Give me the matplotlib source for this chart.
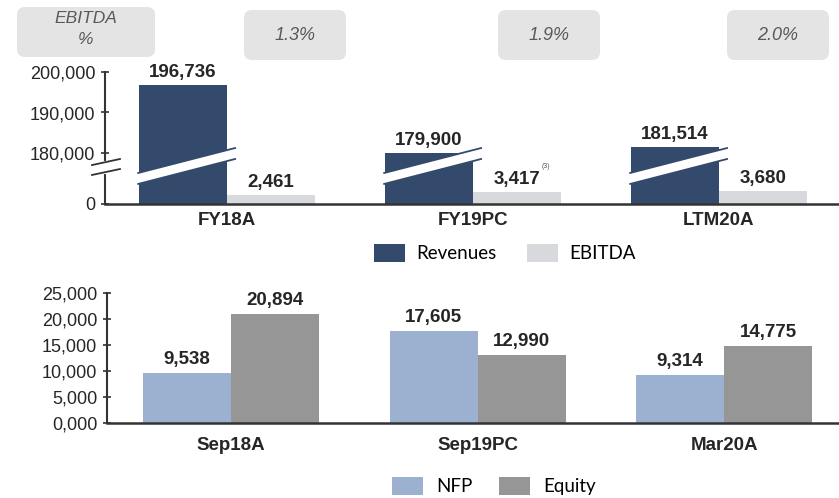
import numpy as np
import matplotlib.pyplot as plt
import matplotlib.transforms as mtransforms
from matplotlib.patches import Patch, Polygon, FancyBboxPatch
from matplotlib.ticker import FuncFormatter

# top chart data
years = ["FY18A", "FY19PC", "LTM20A"]
revenues = [196736, 179900, 181514]
ebitda = [2461, 3417, 3680]
ebitda_margin = ["1.3%", "1.9%", "2.0%"]

# bottom chart data
dates = ["Sep18A", "Sep19PC", "Mar20A"]
nfp = [9538, 17605, 9314]
equity = [20894, 12990, 14775]

NAVY = "#344a6c"
LIGHT = "#d7d9dc"
BLUE = "#9cb0cf"
GREY = "#969696"
TXT = "#262626"

plt.rcParams["font.family"] = ["Liberation Sans", "DejaVu Sans"]

W, H = 839, 498
fig = plt.figure(figsize=(W / 100, H / 100), dpi=100)


def fx(p):
    return p / W


def fy(p):
    return 1 - p / H


# broken y scale: low part (0-9k) and high part (177k-200k) kept, middle squeezed
brk_y = [-1e6, 0, 9000, 177000, 200000, 1e6]
brk_t = [-3500, 0, 31.5, 38.85, 132, 132 + 800 * 4.05]


def fwd(y):
    return np.interp(y, brk_y, brk_t)


def inv(t):
    return np.interp(t, brk_t, brk_y)


x = np.arange(len(years))
w = 0.357

# ---------------- top chart ----------------
ax1 = fig.add_axes([fx(105), fy(204), fx(839) - fx(105), fy(72) - fy(204)])
ax1.set_yscale("function", functions=(fwd, inv))
ax1.bar(x - w / 2, revenues, w, color=NAVY, zorder=2)
ax1.bar(x + w / 2, ebitda, w, color=LIGHT, zorder=2)
ax1.set_ylim(0, 200000)
ax1.set_xlim(-0.496, 2.488)
ax1.set_yticks([0, 180000, 190000, 200000])
ax1.yaxis.set_major_formatter(FuncFormatter(lambda v, p: f"{v:,.0f}"))
ax1.set_xticks(x)
ax1.set_xticklabels(years, fontweight="bold", fontsize=13.5, color=TXT)
ax1.tick_params(axis="x", length=0, pad=6)
ax1.tick_params(axis="y", direction="inout", length=6, width=1.2, labelsize=13,
                labelcolor=TXT, color="#333333", pad=4)
for s in ["top", "right"]:
    ax1.spines[s].set_visible(False)
ax1.spines["left"].set_color("#333333")
ax1.spines["left"].set_linewidth(1.5)
ax1.spines["bottom"].set_color("#333333")
ax1.spines["bottom"].set_linewidth(1.8)

for xi, v in zip(x, revenues):
    ax1.annotate(f"{v:,}", (xi - w / 2, v), xytext=(0, 4), textcoords="offset pixels",
                 ha="center", va="bottom", fontweight="bold", fontsize=13.5, color=TXT)
for xi, v in zip(x, ebitda):
    ax1.annotate(f"{v:,}", (xi + w / 2, v), xytext=(0, 4), textcoords="offset pixels",
                 ha="center", va="bottom", fontweight="bold", fontsize=13.5, color=TXT)
ax1.annotate("(3)", (x[1] + w / 2, ebitda[1]), xytext=(25, 22), textcoords="offset pixels",
             ha="left", va="bottom", fontsize=5, color="#555555")

# break stripes across the revenue bars
trans = mtransforms.blended_transform_factory(ax1.transData, ax1.transAxes)
for xi in x:
    left, right = xi - w - 0.004, xi + 0.033
    ax1.add_patch(Polygon([(left, 0.235), (right, 0.424), (right, 0.341), (left, 0.152)],
                          closed=True, facecolor="white", edgecolor="none",
                          transform=trans, zorder=3, clip_on=False))
    for yl, yr in [(0.235, 0.424), (0.152, 0.341)]:
        ax1.plot([left, right], [yl, yr], color=NAVY, lw=1.3, transform=trans,
                 zorder=4, clip_on=False)

# break on the y axis
ax1.plot([0, 0], [0.245, 0.312], color="white", lw=3, transform=ax1.transAxes,
         zorder=5, clip_on=False)
for y0, y1 in [(0.295, 0.341), (0.220, 0.265)]:
    ax1.plot([-0.0177, 0.0204], [y0, y1], color="#333333", lw=1.3,
             transform=ax1.transAxes, zorder=6, clip_on=False)

# EBITDA % boxes
inch = fig.dpi_scale_trans
fig.patches.append(FancyBboxPatch((17 / 100, (H - 57) / 100), 138 / 100, 50 / 100,
                                  boxstyle="round,pad=0,rounding_size=0.08",
                                  facecolor="#e4e4e4", edgecolor="none", transform=inch))
fig.text(86 / 100, (H - 29) / 100, "EBITDA\n%", transform=inch, ha="center", va="center",
         multialignment="center", style="italic", fontsize=12.5, color="#595959",
         linespacing=1.45)
for cx, m in zip([295, 549, 778], ebitda_margin):
    fig.patches.append(FancyBboxPatch(((cx - 51) / 100, (H - 60) / 100), 102 / 100, 50 / 100,
                                      boxstyle="round,pad=0,rounding_size=0.08",
                                      facecolor="#e4e4e4", edgecolor="none", transform=inch))
    fig.text(cx / 100, (H - 35) / 100, m, transform=inch, ha="center", va="center",
             style="italic", fontsize=13, color="#595959")

fig.legend(handles=[Patch(facecolor=NAVY), Patch(facecolor=LIGHT)],
           labels=["Revenues", "EBITDA"], loc="center", bbox_to_anchor=(fx(505), fy(253)),
           ncol=2, frameon=False, handlelength=1.65, handleheight=1.15, handletextpad=0.6,
           columnspacing=1.6, prop={"family": "Lato", "size": 13.5})

# ---------------- bottom chart ----------------
ax2 = fig.add_axes([fx(107), fy(423), fx(839) - fx(107), fy(293) - fy(423)])
ax2.bar(x - w / 2, nfp, w, color=BLUE, zorder=2)
ax2.bar(x + w / 2, equity, w, color=GREY, zorder=2)
ax2.set_ylim(0, 25000)
ax2.set_xlim(-0.503, 2.466)
ax2.set_yticks(np.arange(0, 25001, 5000))
ax2.yaxis.set_major_formatter(FuncFormatter(lambda v, p: f"{v / 1000:.0f},000"))
ax2.set_xticks(x)
ax2.set_xticklabels(dates, fontweight="bold", fontsize=13.5, color=TXT)
ax2.tick_params(axis="x", length=0, pad=10)
ax2.tick_params(axis="y", direction="inout", length=6, width=1.2, labelsize=13,
                labelcolor=TXT, color="#333333", pad=4)
for s in ["top", "right"]:
    ax2.spines[s].set_visible(False)
ax2.spines["left"].set_color("#333333")
ax2.spines["left"].set_linewidth(1.5)
ax2.spines["bottom"].set_color("#333333")
ax2.spines["bottom"].set_linewidth(1.8)

for xi, v in zip(x, nfp):
    ax2.annotate(f"{v:,}", (xi - w / 2, v), xytext=(0, 5), textcoords="offset pixels",
                 ha="center", va="bottom", fontweight="bold", fontsize=13.5, color=TXT)
for xi, v in zip(x, equity):
    ax2.annotate(f"{v:,}", (xi + w / 2, v), xytext=(0, 5), textcoords="offset pixels",
                 ha="center", va="bottom", fontweight="bold", fontsize=13.5, color=TXT)

fig.legend(handles=[Patch(facecolor=BLUE), Patch(facecolor=GREY)],
           labels=["NFP", "Equity"], loc="center", bbox_to_anchor=(fx(494), fy(486)),
           ncol=2, frameon=False, handlelength=1.65, handleheight=1.15, handletextpad=0.7,
           columnspacing=1.4, prop={"family": "Lato", "size": 13.5})

fig.savefig("out.png", dpi=100)
